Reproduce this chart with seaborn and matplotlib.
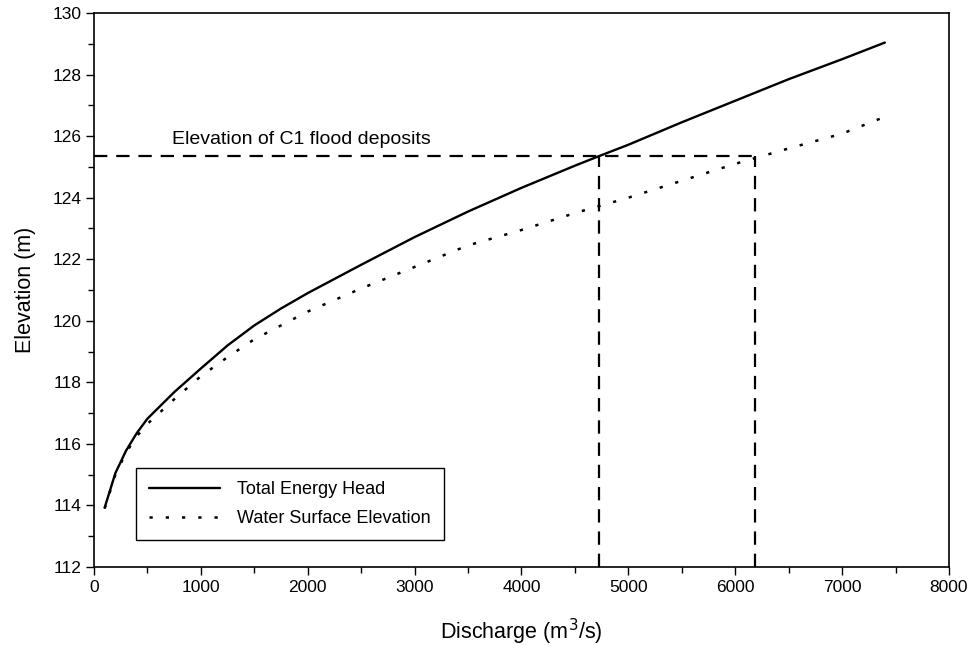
import matplotlib
matplotlib.use("Agg")
import matplotlib.pyplot as plt
import seaborn as sns
import pandas as pd
from matplotlib.ticker import MultipleLocator

teh_q = [100, 200, 300, 400, 500, 750, 1000, 1250, 1500, 1750, 2000, 2500, 3000,
         3500, 4000, 4500, 4725, 5000, 5500, 6000, 6500, 7000, 7400]
teh_z = [113.93, 115.05, 115.78, 116.35, 116.82, 117.68, 118.45, 119.2, 119.85, 120.4,
         120.9, 121.82, 122.72, 123.55, 124.32, 125.04, 125.35, 125.72, 126.45, 127.15,
         127.85, 128.5, 129.04]
wse_q = [100, 200, 300, 400, 500, 750, 1000, 1250, 1500, 1750, 2000, 2500, 3000,
         3500, 4000, 4500, 5000, 5500, 6000, 6500, 7000, 7365]
wse_z = [113.9, 115.0, 115.72, 116.25, 116.65, 117.45, 118.2, 118.82, 119.4, 119.85,
         120.3, 121.05, 121.75, 122.45, 122.95, 123.5, 124.0, 124.55, 125.1, 125.6,
         126.08, 126.58]
deposit_elev = 125.35
q_teh_cross = 4725
q_wse_cross = 6185
label_teh = "Total Energy Head"
label_wse = "Water Surface Elevation"
annot = "Elevation of C1 flood deposits"

sns.set_theme(style="ticks")
plt.rcParams['font.family'] = ['Liberation Sans', 'DejaVu Sans']
plt.rcParams['text.color'] = 'black'
plt.rcParams['axes.labelcolor'] = 'black'

fig = plt.figure(figsize=(9.74, 6.45), dpi=100)
ax = fig.add_axes([0.0965, 0.1209, 0.8778, 0.8589])

df_teh = pd.DataFrame({"q": teh_q, "z": teh_z})
df_wse = pd.DataFrame({"q": wse_q, "z": wse_z})
sns.lineplot(data=df_teh, x="q", y="z", ax=ax, color="black", lw=1.7,
             label=label_teh, sort=False)
sns.lineplot(data=df_wse, x="q", y="z", ax=ax, color="black", lw=1.8,
             linestyle=(0, (1.3, 5.2)), label=label_wse, sort=False)

dash = (0, (6, 4))
ax.plot([0, q_wse_cross], [deposit_elev, deposit_elev], color="black", lw=1.6, linestyle=dash)
ax.plot([q_teh_cross, q_teh_cross], [112, deposit_elev], color="black", lw=1.6, linestyle=dash)
ax.plot([q_wse_cross, q_wse_cross], [112, deposit_elev], color="black", lw=1.6, linestyle=dash)

ax.text(730, 125.62, annot, fontsize=14, color="black", ha="left", va="bottom")

ax.set_xlim(0, 8000)
ax.set_ylim(112, 130)
ax.xaxis.set_major_locator(MultipleLocator(1000))
ax.xaxis.set_minor_locator(MultipleLocator(500))
ax.yaxis.set_major_locator(MultipleLocator(2))
ax.yaxis.set_minor_locator(MultipleLocator(1))
ax.tick_params(which="major", direction="out", length=6, width=1, labelsize=12.5,
               colors="black", pad=3)
ax.tick_params(which="minor", direction="out", length=4, width=1, colors="black")
for s in ax.spines.values():
    s.set_visible(True)
    s.set_color("black")
    s.set_linewidth(1.2)

ax.set_xlabel("Discharge (m$^{3}$/s)", fontsize=15.5, labelpad=16, color="black")
ax.set_ylabel("Elevation (m)", fontsize=15.5, labelpad=12, color="black")

leg = ax.legend(loc="lower left", bbox_to_anchor=(0.049, 0.048), fontsize=13,
                frameon=True, fancybox=False, edgecolor="black", framealpha=1,
                handlelength=3.9, handletextpad=0.95, borderpad=0.75, labelspacing=0.65,
                borderaxespad=0)
leg.get_frame().set_linewidth(1.0)
for t in leg.get_texts():
    t.set_color("black")

fig.savefig("out.png", dpi=100)
